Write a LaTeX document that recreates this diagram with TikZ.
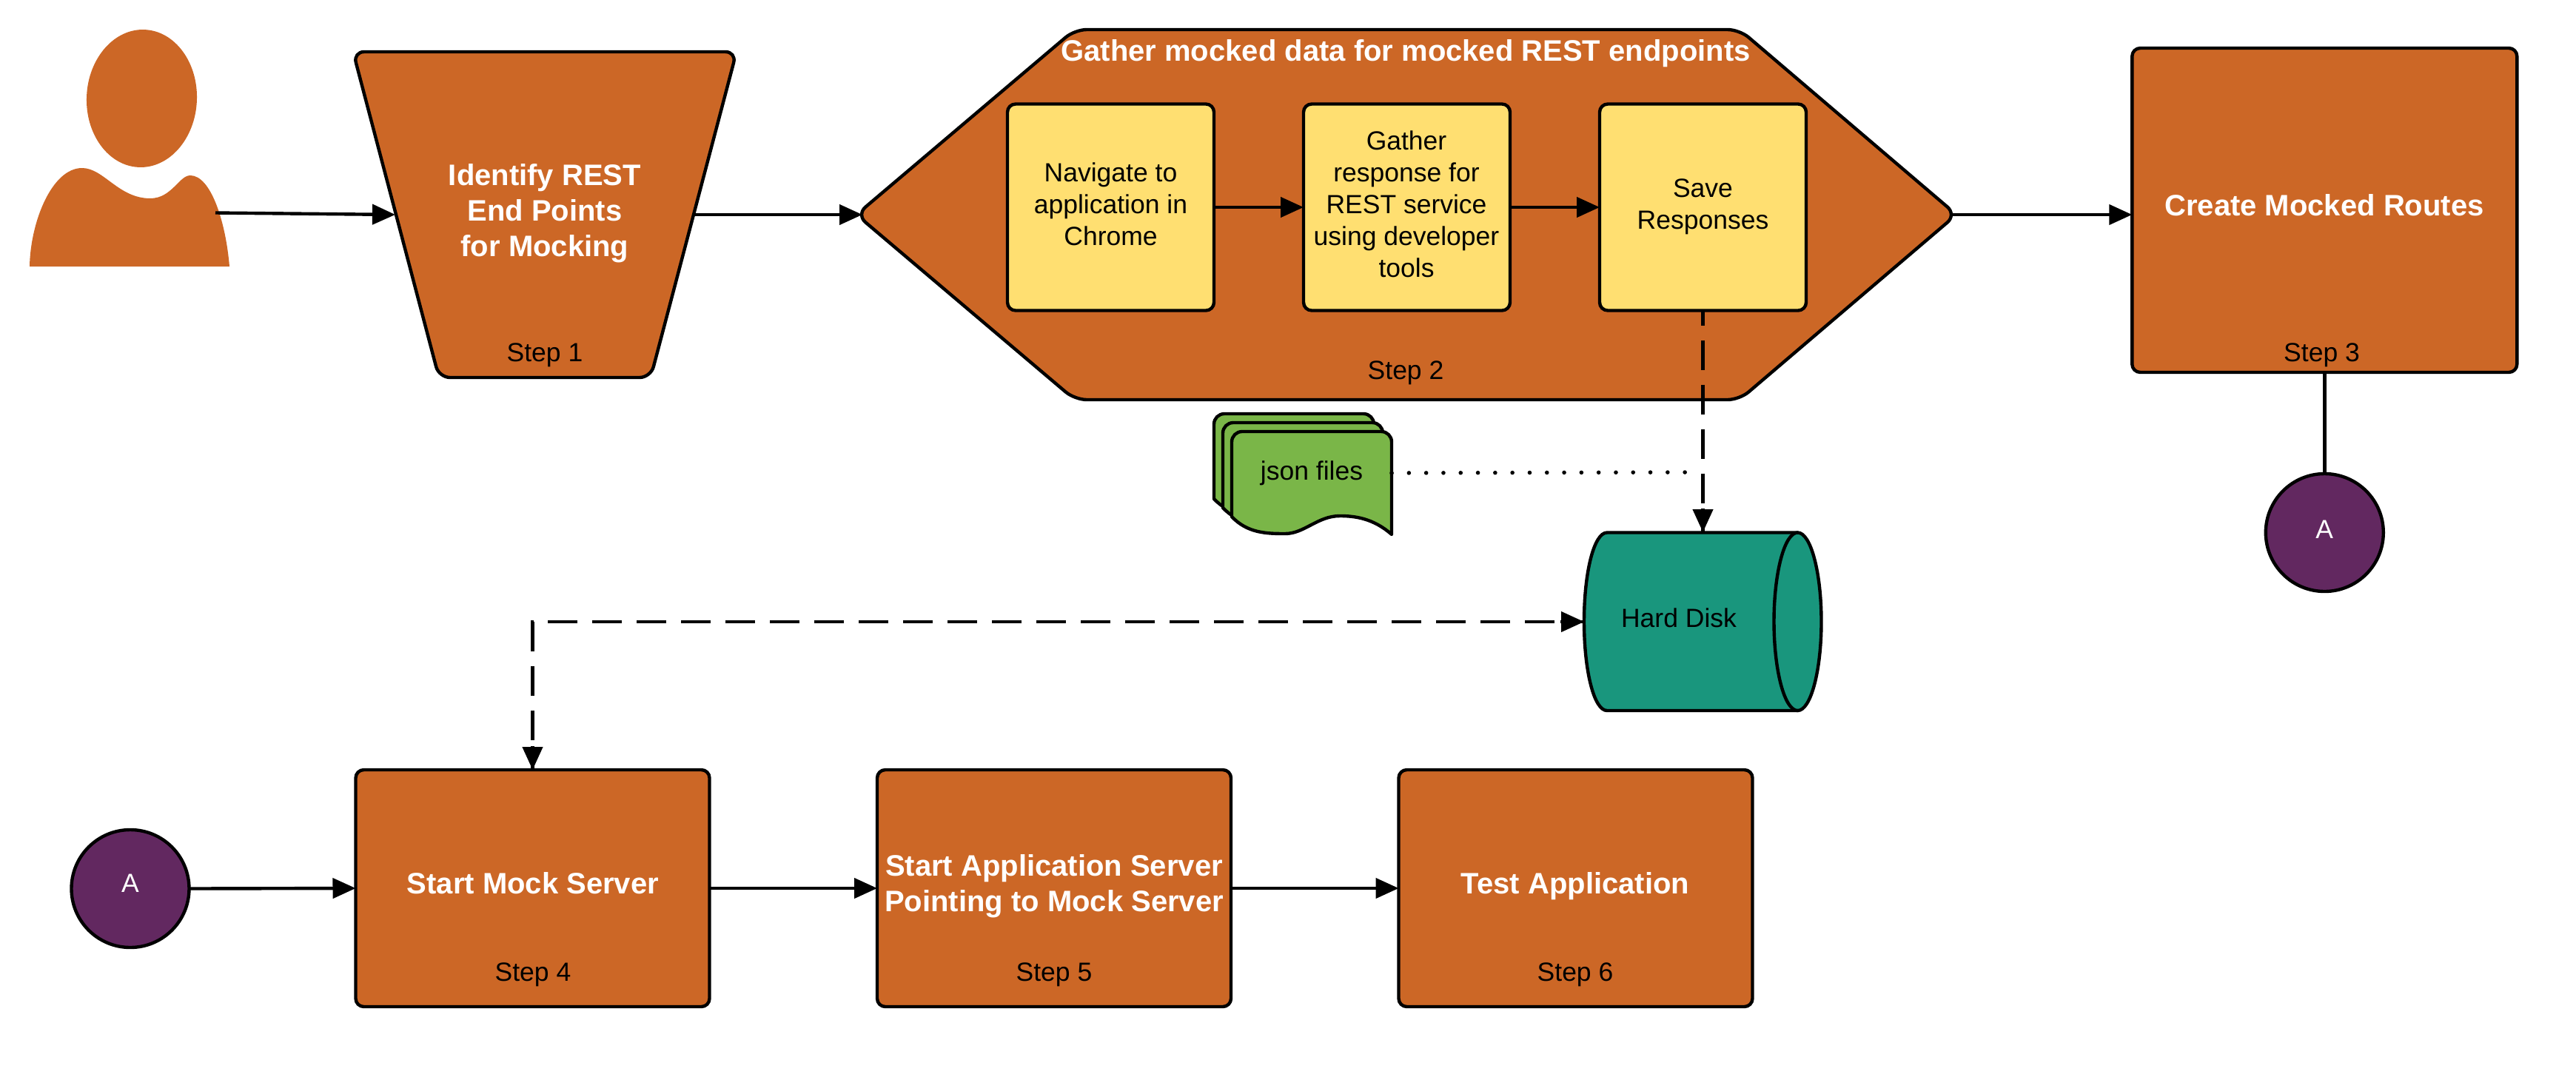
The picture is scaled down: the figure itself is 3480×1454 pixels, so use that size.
\documentclass[tikz,border=0pt]{standalone}
\usepackage{fontspec}
\setmainfont{Liberation Sans}
\usetikzlibrary{arrows.meta,calc}
\definecolor{orangeFill}{HTML}{CC6726}
\definecolor{yellowFill}{HTML}{FFDF71}
\definecolor{purpleFill}{HTML}{622860}
\definecolor{tealFill}{HTML}{19967D}
\definecolor{greenFill}{HTML}{7AB648}
\tikzset{
  outl/.style={draw=black,line width=4.4pt,line join=round},
  stepbox/.style={outl,fill=orangeFill,rectangle,rounded corners=11pt,inner sep=0pt,outer sep=0pt},
  yellowbox/.style={outl,fill=yellowFill,rectangle,rounded corners=11pt,inner sep=0pt,outer sep=0pt,minimum width=279pt,minimum height=279pt},
  connector/.style={outl,circle,fill=purpleFill,inner sep=0pt,outer sep=0pt,minimum size=159pt},
  big/.style={font=\bfseries\fontsize{40}{48}\selectfont,text=white,align=center,inner sep=0pt},
  small/.style={font=\fontsize{35.5}{43}\selectfont,text=black,align=center,inner sep=0pt},
  arrowline/.style={line width=4.4pt,draw=black,-{Triangle[length=31pt,width=27pt]}},
  plainline/.style={line width=4.4pt,draw=black},
  dashline/.style={line width=4.4pt,draw=black,dash pattern=on 40pt off 20pt,dash phase=20pt},
  dotline/.style={line width=5.5pt,draw=black,line cap=round,dash pattern=on 0.1pt off 23.2pt},
}
\newcommand{\docshape}[2]{%
  \draw[outl,fill=greenFill,shift={(#1,#2)}]
    (1664,698) [rounded corners=14pt] -- (1664,583) -- (1880,583) [sharp corners] -- (1880,722)
    .. controls (1855,700) and (1830,697) .. (1810,697)
    .. controls (1780,697) and (1762,721) .. (1736,721)
    .. controls (1710,721) and (1685,720) .. (1664,698) -- cycle;}
\begin{document}
\begin{tikzpicture}[x=1pt,y=-1pt]
\useasboundingbox (0,0) rectangle (3480,1454);
\fill[white] (0,0) rectangle (3480,1454);
% person
\fill[orangeFill,rotate around={-2.5:(191.5,133)}] (191.5,133) ellipse [x radius=74.5,y radius=93];
\fill[orangeFill] (40,360) .. controls (41,300) and (70,227) .. (111,227)
  .. controls (140,227) and (160,268) .. (203,268)
  .. controls (232,268) and (242,237) .. (257,237)
  .. controls (285,237) and (305,300) .. (310,360) -- cycle;
\coordinate (personR) at (291,287.5);
% step 1
\draw[outl,fill=orangeFill,rounded corners=15pt] (477,70) -- (995,70) -- (879,510) -- (593,510) -- cycle;
\coordinate (trapL) at (534,290);
\coordinate (trapR) at (938,290);
\node[big] (t1) at (736,288.5) {Identify REST\\End Points\\for Mocking};
\node[small] (s1) at (736,479.5) {Step 1};
% step 2
\draw[outl,fill=orangeFill,rounded corners=16pt] (1157,290) -- (1452,40) -- (2350,40) -- (2643,290) -- (2350,540) -- (1452,540) -- cycle;
\coordinate (hexL) at (1165,290);
\coordinate (hexR) at (2637,290);
\node[big] (t2) at (1899,72.5) {Gather mocked data for mocked REST endpoints};
\node[small] (s2) at (1899,503.5) {Step 2};
\node[yellowbox] (y1) at (1500.5,280) {};
\node[yellowbox] (y2) at (1900.5,280) {};
\node[yellowbox] (y3) at (2300.5,280) {};
\node[small] (yt1) at (1500.5,276) {Navigate to\\application in\\Chrome};
\node[small] (yt2) at (1900,276) {Gather\\response for\\REST service\\using developer\\tools};
\node[small] (yt3) at (2300.5,279) {Save\\Responses};
% step 3
\node[stepbox,minimum width=520pt,minimum height=438pt] (b3) at (3140.3,284) {};
\node[big] (t3) at (3140,277) {Create Mocked Routes};
\node[small] (s3) at (3136.5,479.5) {Step 3};
\node[connector] (a1) at (3140.3,719.5) {};
\node[small,text=white] (at1) at (3140.3,715) {A};
% json files
\docshape{-24}{-24}
\docshape{-12}{-12}
\docshape{0}{0}
\coordinate (docR) at (1880,639);
\coordinate (dotEnd) at (2277,638);
\node[small] (jt) at (1772,639) {json files};
% disk
\draw[outl,fill=tealFill] (2171,719.5) -- (2428.5,719.5) -- (2428.5,960) -- (2171,960)
  .. controls (2153.3,960) and (2140,906) .. (2140,839.75)
  .. controls (2140,773.3) and (2153.3,719.5) .. (2171,719.5) -- cycle;
\draw[outl,fill=tealFill] (2428.5,839.75) ellipse [x radius=32,y radius=120.25];
\coordinate (diskT) at (2300,719);
\coordinate (diskL) at (2140,840);
\node[small] (dt) at (2268,835) {Hard Disk};
% bottom row
\node[connector] (a2) at (176,1200.5) {};
\node[small,text=white] (at2) at (176,1193) {A};
\node[stepbox,minimum width=478pt,minimum height=320pt] (b4) at (719.5,1200) {};
\node[stepbox,minimum width=478pt,minimum height=320pt] (b5) at (1424,1200) {};
\node[stepbox,minimum width=478pt,minimum height=320pt] (b6) at (2128.5,1200) {};
\node[big] (t4) at (720,1193) {Start Mock Server};
\node[big] (t5) at (1424,1197) {Start Application Server\\Pointing to Mock Server};
\node[big] (t6) at (2128,1197) {Test Application};
\node[small] (s4) at (720,1317) {Step 4};
\node[small] (s5) at (1424,1317) {Step 5};
\node[small] (s6) at (2128,1317) {Step 6};
% connectors
\draw[arrowline] (personR) -- (trapL);
\draw[arrowline] (trapR) -- (hexL);
\draw[arrowline] (hexR) -- (b3.west |- hexR);
\draw[plainline] (b3.south) -- (a1.north);
\draw[arrowline] (y1.east) -- (y2.west);
\draw[arrowline] (y2.east) -- (y3.west);
\draw[arrowline] (a2.east) -- (b4.west);
\draw[arrowline] (b4.east) -- (b5.west);
\draw[arrowline] (b5.east) -- (b6.west);
\draw[dotline] (docR) -- (dotEnd);
\draw[dashline] (y3.south) -- (y3.south |- diskT);
\draw[arrowline] ($(y3.south |- diskT)+(0,-32)$) -- (y3.south |- diskT);
\draw[dashline] (diskL) -| (b4.north);
\draw[arrowline] ($(diskL)+(-32,0)$) -- (diskL);
\draw[arrowline] ($(b4.north)+(0,-32)$) -- (b4.north);
\end{tikzpicture}
\end{document}
